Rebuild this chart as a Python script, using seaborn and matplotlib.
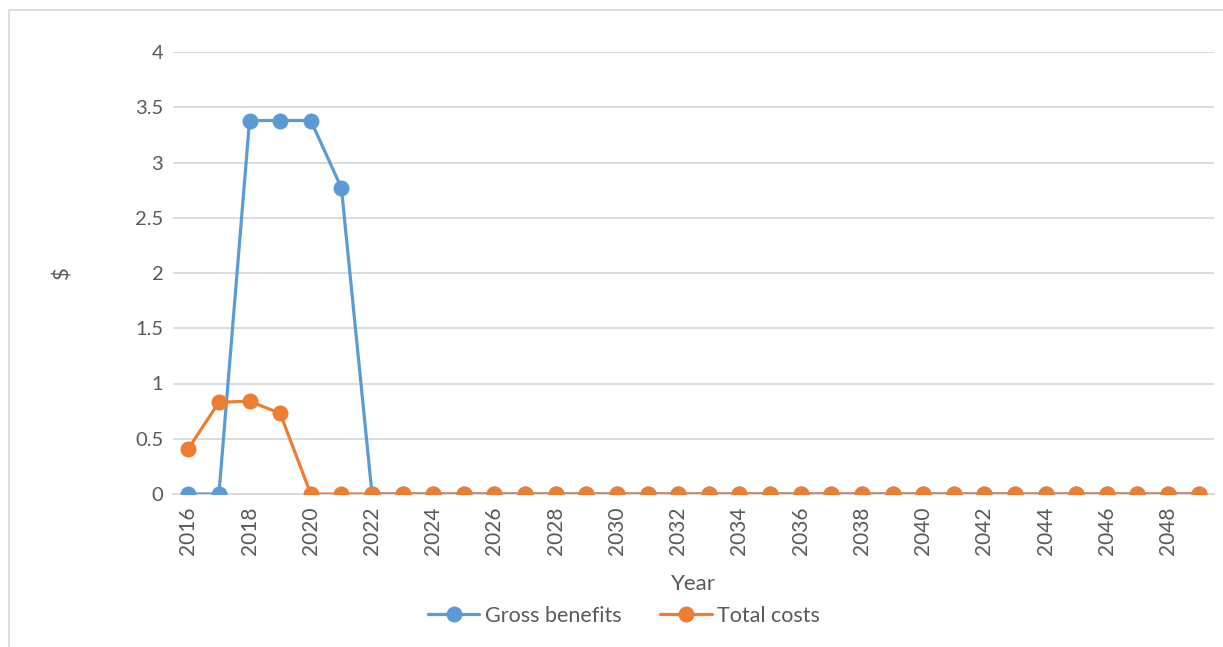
import matplotlib
matplotlib.use("Agg")
import matplotlib.pyplot as plt
import matplotlib.patches as mpatches
import seaborn as sns
import pandas as pd
import numpy as np

years = list(range(2016, 2050))
gross_benefits = [0, 0, 3.38, 3.38, 3.38, 2.77] + [0] * 28
total_costs = [0.41, 0.83, 0.84, 0.73] + [0] * 30
series_names = ["Gross benefits", "Total costs"]
y_ticks = [0, 0.5, 1, 1.5, 2, 2.5, 3, 3.5, 4]
y_tick_labels = ["0", "0.5", "1", "1.5", "2", "2.5", "3", "3.5", "4"]

df = pd.DataFrame({
    "idx": list(range(len(years))) * 2,
    "value": gross_benefits + total_costs,
    "series": [series_names[0]] * len(years) + [series_names[1]] * len(years),
})

sns.set_theme(style="white")
plt.rcParams["font.family"] = ["Lato", "DejaVu Sans"]
text_col = "#595959"
grid_col = "#D9D9D9"

W, H = 1223, 647
fig = plt.figure(figsize=(W / 100, H / 100), dpi=100)
ax = fig.add_axes([173 / W, 153 / H, (1214 - 173) / W, (494 - 52) / H])

sns.lineplot(data=df, x="idx", y="value", hue="series",
             palette={"Gross benefits": "#5B9BD5", "Total costs": "#ED7D31"},
             marker="o", markersize=11.5, markeredgewidth=0, linewidth=2.3,
             ax=ax, legend=True, zorder=3)

handles, labels = ax.get_legend_handles_labels()
ax.get_legend().remove()

n = len(years)
ax.set_xlim(-0.5, n - 0.5)
ax.set_ylim(0, 4)
ax.set_yticks(y_ticks)
ax.set_yticklabels(y_tick_labels)
ax.set_xticks(list(range(0, n, 2)))
ax.set_xticklabels([str(y) for y in years[::2]], rotation=90)
ax.set_xticks(np.arange(-0.5, n, 2), minor=True)

ax.grid(axis="y", color=grid_col, linewidth=1.3, zorder=0)
ax.set_axisbelow(True)
for s in ["left", "right", "top"]:
    ax.spines[s].set_visible(False)
ax.spines["bottom"].set_color(grid_col)
ax.spines["bottom"].set_linewidth(1.3)
ax.spines["bottom"].set_zorder(1)

ax.tick_params(axis="y", which="both", length=0, labelsize=14.5, labelcolor=text_col, pad=7)
ax.tick_params(axis="x", which="major", length=0, labelsize=15, labelcolor=text_col, pad=9)
ax.tick_params(axis="x", which="minor", length=6, width=1.3, color=grid_col, direction="out")

ax.set_xlabel("Year", fontsize=16, color=text_col, labelpad=14)
ax.set_ylabel("$", fontsize=16, color=text_col, labelpad=45)

fig.legend(handles, labels, loc="center", bbox_to_anchor=(624 / W, 1 - 616 / H),
           ncol=2, frameon=False, fontsize=15.5, labelcolor=text_col,
           handlelength=2.4, handletextpad=0.25, columnspacing=1.8)

fig.patches.append(mpatches.Rectangle((9 / W, -0.1), 1.2, 1.1 - 10 / H,
                                      transform=fig.transFigure, fill=False,
                                      edgecolor=grid_col, linewidth=1.2))

fig.savefig("out.png", dpi=100)
